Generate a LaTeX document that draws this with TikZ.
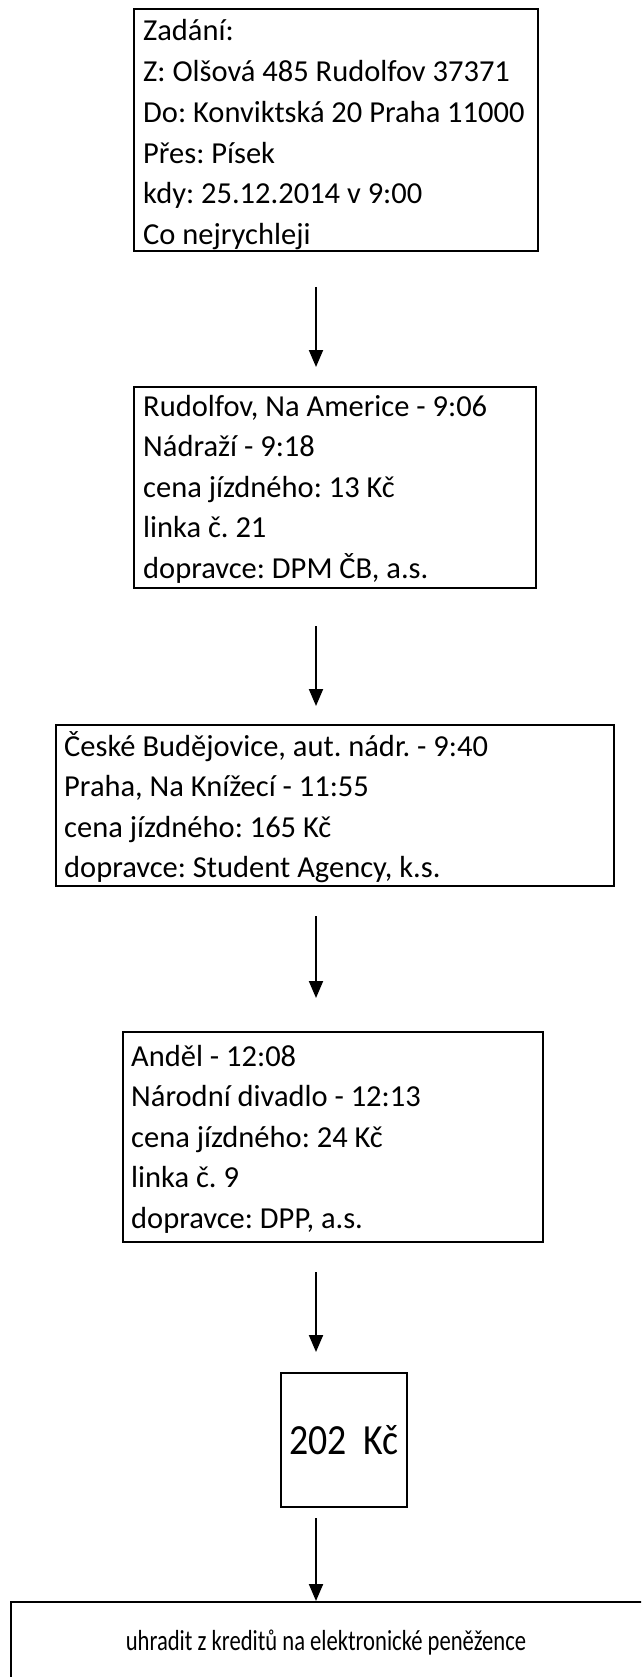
\documentclass[tikz,border=0pt]{standalone}
\usepackage{fontspec}
\usepackage{graphicx}
\setmainfont{Carlito}
\frenchspacing
\usetikzlibrary{arrows.meta}
\begin{document}
\begin{tikzpicture}[x=1pt,y=-1pt,
  box/.style={draw=black, line width=2pt, rectangle, inner sep=0pt},
  ln/.style={anchor=base west, inner sep=0pt, font=\fontsize{30.5}{36}\selectfont},
  arr/.style={line width=2pt, -{Triangle[width=14pt,length=17pt]}}]
\useasboundingbox (0,0) rectangle (641,1677);
\clip (0,0) rectangle (641,1677);
\fill[white] (0,0) rectangle (641,1677);

% Box 1
\node[box, minimum width=404pt, minimum height=242pt] (b1) at (336,130) {};
\node[ln] (b1l1) at (143,41) {Zadání:};
\node[ln] (b1l2) at (143,82) {Z: Olšová 485 Rudolfov 37371};
\node[ln] (b1l3) at (143,123) {Do: Konviktská 20 Praha 11000};
\node[ln] (b1l4) at (143,164) {Přes: Písek};
\node[ln] (b1l5) at (143,204) {kdy: 25.12.2014 v 9:00};
\node[ln] (b1l6) at (143,245) {Co nejrychleji};

\coordinate (a1s) at (316,287);
\coordinate (a1e) at (316,367);
\draw[arr] (a1s) -- (a1e);

% Box 2
\node[box, minimum width=402pt, minimum height=201pt] (b2) at (335,487.5) {};
\node[ln] (b2l1) at (143,416) {Rudolfov, Na Americe - 9:06};
\node[ln] (b2l2) at (143,456.5) {Nádraží - 9:18};
\node[ln] (b2l3) at (143,497) {cena jízdného: 13 Kč};
\node[ln] (b2l4) at (143,537.5) {linka č. 21};
\node[ln] (b2l5) at (143,578) {dopravce: DPM ČB, a.s.};

\coordinate (a2s) at (316,626);
\coordinate (a2e) at (316,706);
\draw[arr] (a2s) -- (a2e);

% Box 3
\node[box, minimum width=558pt, minimum height=161pt] (b3) at (335,805.5) {};
\node[ln] (b3l1) at (64,756) {České Budějovice, aut. nádr. - 9:40};
\node[ln] (b3l2) at (64,796.5) {Praha, Na Knížecí - 11:55};
\node[ln] (b3l3) at (64,837) {cena jízdného: 165 Kč};
\node[ln] (b3l4) at (64,877.5) {dopravce: Student Agency, k.s.};

\coordinate (a3s) at (316,916);
\coordinate (a3e) at (316,998);
\draw[arr] (a3s) -- (a3e);

% Box 4
\node[box, minimum width=420pt, minimum height=210pt] (b4) at (333,1137) {};
\node[ln] (b4l1) at (131,1066) {Anděl - 12:08};
\node[ln] (b4l2) at (131,1106.5) {Národní divadlo - 12:13};
\node[ln] (b4l3) at (131,1147) {cena jízdného: 24 Kč};
\node[ln] (b4l4) at (131,1187.5) {linka č. 9};
\node[ln] (b4l5) at (131,1228) {dopravce: DPP, a.s.};

\coordinate (a4s) at (316,1272);
\coordinate (a4e) at (316,1352);
\draw[arr] (a4s) -- (a4e);

% Box 5
\node[box, minimum width=126pt, minimum height=134pt] (b5) at (344,1440) {};
\node[inner sep=0pt, font=\fontsize{43}{50}\selectfont] (t5) at (b5.center) {\scalebox{0.88}[1]{202~~Kč}};

\coordinate (a5s) at (316,1518);
\coordinate (a5e) at (316,1601);
\draw[arr] (a5s) -- (a5e);

% Box 6
\node[box, minimum width=632pt, minimum height=140pt] (b6) at (327,1672) {};
\node[anchor=base, inner sep=0pt, font=\fontsize{29}{34}\selectfont] (t6) at (326,1650) {\scalebox{0.78}[1]{uhradit z kreditů na elektronické peněžence}};
\end{tikzpicture}
\end{document}
